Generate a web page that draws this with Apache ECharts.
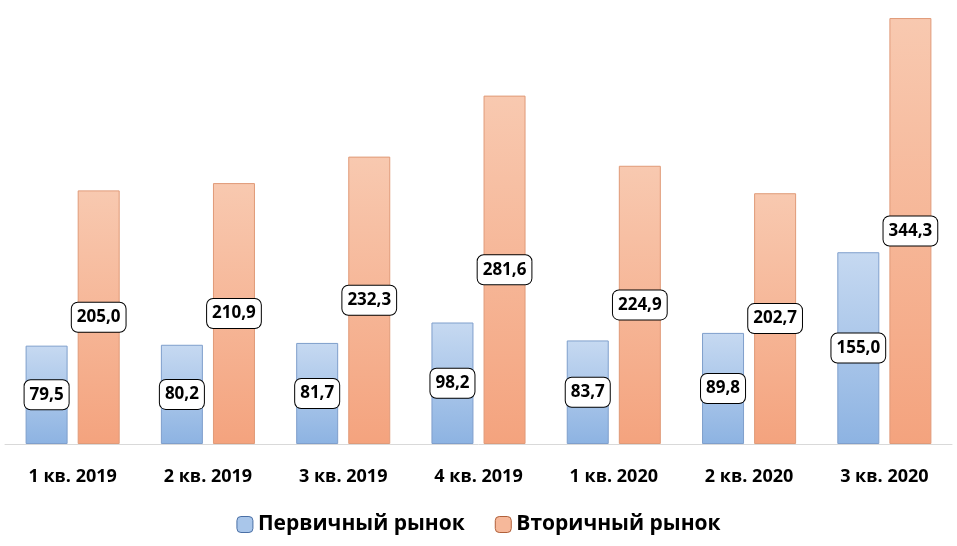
<!DOCTYPE html>
<html lang="ru">
<head>
<meta charset="UTF-8">
<title>Рынок</title>
<style>
  html,body{margin:0;padding:0;background:#fff;}
  #main{width:957px;height:546px;}
</style>
</head>
<body>
<div id="main"></div>
<script src="https://cdn.jsdelivr.net/npm/echarts@6/dist/echarts.min.js"></script>
<script>
// данные
const categories = ['1 кв. 2019','2 кв. 2019','3 кв. 2019','4 кв. 2019','1 кв. 2020','2 кв. 2020','3 кв. 2020'];
const primary = [79.5, 80.2, 81.7, 98.2, 83.7, 89.8, 155.0];
const secondary = [205.0, 210.9, 232.3, 281.6, 224.9, 202.7, 344.3];

const font = '"Open Sans", "Liberation Sans", sans-serif';

function grad(top, bottom){
  return new echarts.graphic.LinearGradient(0,0,0,1,[{offset:0,color:top},{offset:1,color:bottom}]);
}

const label = {
  show:true, position:'inside',
  formatter:p => p.value.toFixed(1).replace('.', ','),
  color:'#000', fontFamily:font, fontWeight:'bold', fontSize:17,
  backgroundColor:'#fff', borderColor:'#000', borderWidth:1, borderRadius:6,
  padding:[7,5,5,5]
};

const chart = echarts.init(document.getElementById('main'));
chart.setOption({
  animation:false,
  grid:{left:5, right:5, top:11, bottom:102, containLabel:false},
  legend:{
    bottom:6, itemWidth:16, itemHeight:16, itemGap:30,
    textStyle:{fontFamily:font, fontWeight:'bold', fontSize:21, color:'#000'},
    data:[
      {name:'Первичный рынок', itemStyle:{color:'#a9c6ea', borderColor:'#4a6fa5', borderWidth:1}},
      {name:'Вторичный рынок', itemStyle:{color:'#f6b89a', borderColor:'#b0603a', borderWidth:1}}
    ]
  },
  xAxis:{
    type:'category', data:categories,
    axisLine:{lineStyle:{color:'#d9d9d9'}}, axisTick:{show:false},
    axisLabel:{color:'#000', fontFamily:font, fontWeight:'bold', fontSize:18, margin:24}
  },
  yAxis:{type:'value', min:0, max:350, show:false, splitLine:{show:false}},
  series:[
    {name:'Первичный рынок', type:'bar', data:primary, barWidth:42, barGap:'24%',
     itemStyle:{color:grad('#c6d9f1','#8db3e2'), borderColor:'#7f9fcc', borderWidth:1},
     label:label},
    {name:'Вторичный рынок', type:'bar', data:secondary, barWidth:42,
     itemStyle:{color:grad('#f8c9b0','#f4a37e'), borderColor:'#e09a78', borderWidth:1},
     label:label}
  ]
});
</script>
</body>
</html>
